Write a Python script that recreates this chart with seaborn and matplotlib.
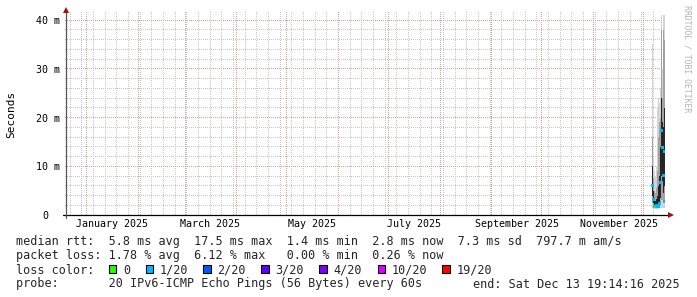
import matplotlib
matplotlib.use("Agg")
import matplotlib.pyplot as plt
import matplotlib.dates as mdates
import numpy as np
import pandas as pd
import seaborn as sns
from matplotlib.patches import Rectangle
from matplotlib.colors import to_rgb

# ---------------- data (RTT in milliseconds) ----------------
times = ["2025-12-06 03:00", "2025-12-06 17:20", "2025-12-07 07:40", "2025-12-07 22:00",
         "2025-12-08 12:30", "2025-12-09 02:50", "2025-12-09 17:10", "2025-12-10 07:40",
         "2025-12-10 22:00", "2025-12-11 12:20", "2025-12-12 02:50", "2025-12-12 17:10",
         "2025-12-13 07:40", "2025-12-13 18:40"]
rtt_min = [1.5, 1.3, 1.2, 1.2, 1.2, 1.3, 1.3, 1.4, 1.4, 1.5, 1.5, 1.4, 1.4, 1.3]
rtt_p10 = [2.5, 1.8, 1.4, 1.4, 1.4, 1.5, 1.6, 1.8, 2.0, 3.0, 3.0, 2.5, 2.5, 1.8]
rtt_p25 = [4.0, 2.4, 1.6, 1.5, 1.6, 1.7, 2.0, 2.5, 3.5, 8.0, 7.0, 4.5, 6.0, 2.2]
rtt_median = [6.1, 3.2, 1.8, 1.7, 1.9, 1.8, 1.8, 2.4, 6.7, 17.4, 13.8, 8.1, 13.0, 2.8]
rtt_p75 = [10, 5, 3, 2.8, 3.2, 4, 6, 8, 14, 24, 19, 18, 22, 6]
rtt_p90 = [16, 7.5, 5, 4.5, 5.5, 9, 16, 19, 20, 38, 24, 38, 36, 12]
rtt_max = [35, 12, 9, 8, 10, 22, 24, 23, 26, 41, 30, 41, 41, 18]
loss = ["1/20", "1/20", "1/20", "0", "1/20", "1/20", "1/20", "1/20",
        "1/20", "1/20", "1/20", "1/20", "1/20", "1/20"]

loss_labels = ["0", "1/20", "2/20", "3/20", "4/20", "10/20", "19/20"]
loss_colors = ["#26ff00", "#00b8ff", "#0059ff", "#5e00ff", "#7e00ff", "#dd00ff", "#ff0000"]

month_ticks = ["2025-01-16", "2025-03-16", "2025-05-16", "2025-07-16", "2025-09-16", "2025-11-16"]
month_labels = ["January 2025", "March 2025", "May 2025", "July 2025",
                "September 2025", "November 2025"]
y_major = [0, 10, 20, 30, 40]
y_labels = ["0", "10 m", "20 m", "30 m", "40 m"]

end_time = pd.Timestamp("2025-12-13 19:14:16")
span_days = 360

line1 = "median rtt:  5.8 ms avg  17.5 ms max  1.4 ms min  2.8 ms now  7.3 ms sd  797.7 m am/s"
line2 = "packet loss: 1.78 % avg  6.12 % max   0.00 % min  0.26 % now"
line3 = "loss color:"
line4a = "probe:       20 IPv6-ICMP Echo Pings (56 Bytes) every 60s"
line4b = "end: Sat Dec 13 19:14:16 2025"

df = pd.DataFrame({"time": pd.to_datetime(times), "min": rtt_min, "p10": rtt_p10,
                   "p25": rtt_p25, "median": rtt_median, "p75": rtt_p75,
                   "p90": rtt_p90, "max": rtt_max, "loss": loss})

# ---------------- figure ----------------
sns.set_style("white")
plt.rcParams["font.family"] = ["DejaVu Sans Mono"]

W, H = 697, 297
PW, PH = 600, 203          # plot area in pixels
fig = plt.figure(figsize=(W / 100, H / 100), dpi=100)
fig.patch.set_facecolor("white")
ax = fig.add_axes([65 / W, (H - 215) / H, PW / W, PH / H])
ax.set_facecolor("white")

start_time = end_time - pd.Timedelta(days=span_days)
y_top = PH / 4.875

# ---- dotted grid rendered pixel-exact as a background image ----
minor_c = np.array(to_rgb("#c8c8c8"))
major_c = np.array(to_rgb("#e09a9a"))
grid = np.ones((PH, PW, 3))
span = (end_time - start_time).total_seconds()


def col_of(t):
    return int(np.floor((t - start_time).total_seconds() / span * PW + 1e-6))


def row_of(v):
    return int(np.floor((y_top - v) / y_top * PH + 1e-6))


rows_dot = np.arange(PH) % 2 == 0
cols_dot = np.arange(PW) % 2 == 0
for v in np.arange(2, 42, 2):
    if v % 10:
        r = row_of(v)
        if 0 <= r < PH:
            grid[r, cols_dot] = minor_c
for t in pd.date_range(start_time.normalize(), end_time, freq="W-SUN"):
    c = col_of(t)
    if 0 <= c < PW:
        grid[rows_dot, c] = minor_c
for v in y_major[1:]:
    r = row_of(v)
    if 0 <= r < PH:
        grid[r, cols_dot] = major_c
for t in pd.date_range(start_time.normalize(), end_time, freq="MS"):
    c = col_of(t)
    if 0 <= c < PW:
        grid[rows_dot, c] = major_c

ax.imshow(grid, extent=(mdates.date2num(start_time), mdates.date2num(end_time), 0, y_top),
          aspect="auto", interpolation="nearest", zorder=0)

# smoke
ax.fill_between(df["time"], df["min"], df["max"], step="mid", color="#d4d4d4", lw=0, zorder=2)
ax.fill_between(df["time"], df["p10"], df["p90"], step="mid", color="#a2a2a2", lw=0, zorder=2.1)
ax.fill_between(df["time"], df["p25"], df["p75"], step="mid", color="#262626", lw=0, zorder=2.2)

# medians coloured by loss
pal = dict(zip(loss_labels, loss_colors))
sns.scatterplot(data=df, x="time", y="median", hue="loss", palette=pal, marker="s",
                s=5, linewidth=0, legend=False, ax=ax, zorder=3)

ax.set_xlim(start_time, end_time)
ax.set_ylim(0, y_top)

# axes styling
for s in ax.spines.values():
    s.set_visible(False)
ax.set_xlabel("")
ax.set_ylabel("")
ax.set_xticks(pd.to_datetime(month_ticks))
ax.set_xticklabels(month_labels)
ax.tick_params(axis="x", length=0, pad=3, labelsize=7.2, colors="black")
ax.set_yticks(y_major)
ax.set_yticklabels([])
ax.tick_params(axis="y", length=0)
for v, lab in zip(y_major, y_labels):
    off = -3.3 if lab != "0" else -3.3 - 2 * 4.33
    ax.annotate(lab, xy=(0, v), xycoords=("axes fraction", "data"),
                xytext=(off, 0), textcoords="offset points", ha="right",
                va="center_baseline", fontsize=7.2, color="black")

# axis lines and arrows
ax.plot([-0.004, 1.006], [0, 0], transform=ax.transAxes, color="black", lw=0.9,
        clip_on=False, zorder=4)
ax.plot([0.0015, 0.0015], [-0.015, 1.0], transform=ax.transAxes, color="#555555", lw=0.9,
        clip_on=False, zorder=4)
ax.plot([1.0092], [0], marker=">", ms=4.5, color="#a01010", transform=ax.transAxes,
        clip_on=False, zorder=5, markeredgewidth=0)
ax.plot([0.0015], [1.0074], marker="^", ms=4.5, color="#a01010", transform=ax.transAxes,
        clip_on=False, zorder=5, markeredgewidth=0)

# y label and watermark
fig.text(11 / W, 1 - 114 / H, "Seconds", rotation=90, ha="center", va="center",
         fontsize=8, color="black")
fig.text(687 / W, 1 - 59 / H, "RRDTOOL / TOBI OETIKER", rotation=270, ha="center",
         va="center", fontsize=5.9, color="#b4b4b4")

# legend text
fs = 8.5
fig.text(16 / W, 1 - 245.5 / H, line1, fontsize=fs, va="baseline", ha="left")
fig.text(16 / W, 1 - 259.5 / H, line2, fontsize=fs, va="baseline", ha="left")
fig.text(16 / W, 1 - 273.5 / H, line3, fontsize=fs, va="baseline", ha="left")
fig.text(16 / W, 1 - 287.5 / H, line4a, fontsize=fs, va="baseline", ha="left")
fig.text(680 / W, 1 - 287.5 / H, line4b, fontsize=fs, va="baseline", ha="right")

box_x = [108.7, 145.7, 203, 261, 319, 377.7, 442.3]
for bx, lab, col in zip(box_x, loss_labels, loss_colors):
    fig.add_artist(Rectangle((bx / W, 1 - 272.7 / H), 7.5 / W, 7.5 / H,
                             transform=fig.transFigure, facecolor=col,
                             edgecolor="black", lw=0.8))
    fig.text((bx + 14.4) / W, 1 - 273.5 / H, lab, fontsize=fs, va="baseline", ha="left")

fig.savefig("out.png", dpi=100)
